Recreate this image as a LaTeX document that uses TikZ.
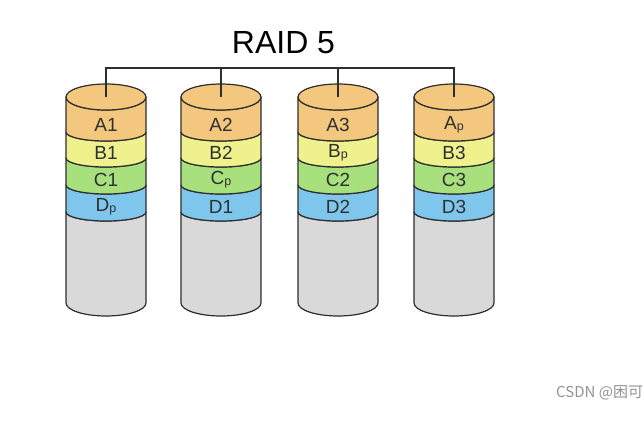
\documentclass[tikz,border=0pt]{standalone}
\usepackage{fontspec}
\setmainfont{Liberation Sans}
\newfontfamily\cjkfont{Noto Sans CJK SC}
\definecolor{edgecol}{HTML}{2E2E2E}
\definecolor{orangeband}{HTML}{F3C77E}
\definecolor{yellowband}{HTML}{EEF18C}
\definecolor{greenband}{HTML}{A8E07E}
\definecolor{blueband}{HTML}{7EC6EC}
\definecolor{grayband}{HTML}{D9D9D9}
\definecolor{labeltext}{HTML}{303030}
\newcommand\psub{{\fontsize{12.5}{12.5}\selectfont\raisebox{-1pt}{p}}}
\newcommand\bandpath[6]{% cx, ytop, ybot, colour, ry top, ry bottom
  \path[bandline, fill=#4] (#1-40,#2) -- (#1-40,#3)
    arc[start angle=180, end angle=0, x radius=40, y radius=#6]
    -- (#1+40,#2)
    arc[start angle=0, end angle=180, x radius=40, y radius=#5] -- cycle;}
\tikzset{
  bandline/.style={draw=edgecol, line width=1.2pt, line join=round},
  disklabel/.style={font=\fontsize{19}{19}\selectfont, text=labeltext, inner sep=0pt},
  busline/.style={draw=edgecol, line width=1.1pt},
}
\begin{document}
\begin{tikzpicture}[x=1pt, y=-1pt]
\useasboundingbox[fill=white] (0,0) rectangle (644,426);
\node[font=\fontsize{32}{32}\selectfont, inner sep=0pt] (title) at (283.5,42.5) {RAID 5};
\foreach \cx/\la/\lb/\lc/\ld [count=\i] in {
  106/A1/B1/C1/D\psub,
  221/A2/B2/C\psub/D1,
  338/A3/B\psub/C2/D2,
  454/A\psub/B3/C3/D3}{
  \bandpath{\cx}{212}{303}{grayband}{9}{13}
  \bandpath{\cx}{185}{212}{blueband}{9}{9}
  \bandpath{\cx}{158}{185}{greenband}{9}{9}
  \bandpath{\cx}{132}{158}{yellowband}{9}{9}
  \bandpath{\cx}{97}{132}{orangeband}{13}{9}
  \path[bandline, fill=orangeband] (\cx,97) ellipse[x radius=40, y radius=13];
  \coordinate (top\i) at (\cx,97);
  \coordinate (j\i) at (\cx,68);
  \node[disklabel] (a\i) at (\cx,125) {\la};
  \node[disklabel] (b\i) at (\cx,152.5) {\lb};
  \node[disklabel] (c\i) at (\cx,180) {\lc};
  \node[disklabel] (d\i) at (\cx,207) {\ld};
}
\draw[busline] (top1) -- (j1) -- (j4) -- (top4);
\draw[busline] (top2) -- (j2);
\draw[busline] (top3) -- (j3);
\node[anchor=base west, inner sep=0pt, text=black!42, font=\cjkfont\fontsize{15}{15}\selectfont] (wm) at (556,397) {CSDN @困可};
\end{tikzpicture}
\end{document}
